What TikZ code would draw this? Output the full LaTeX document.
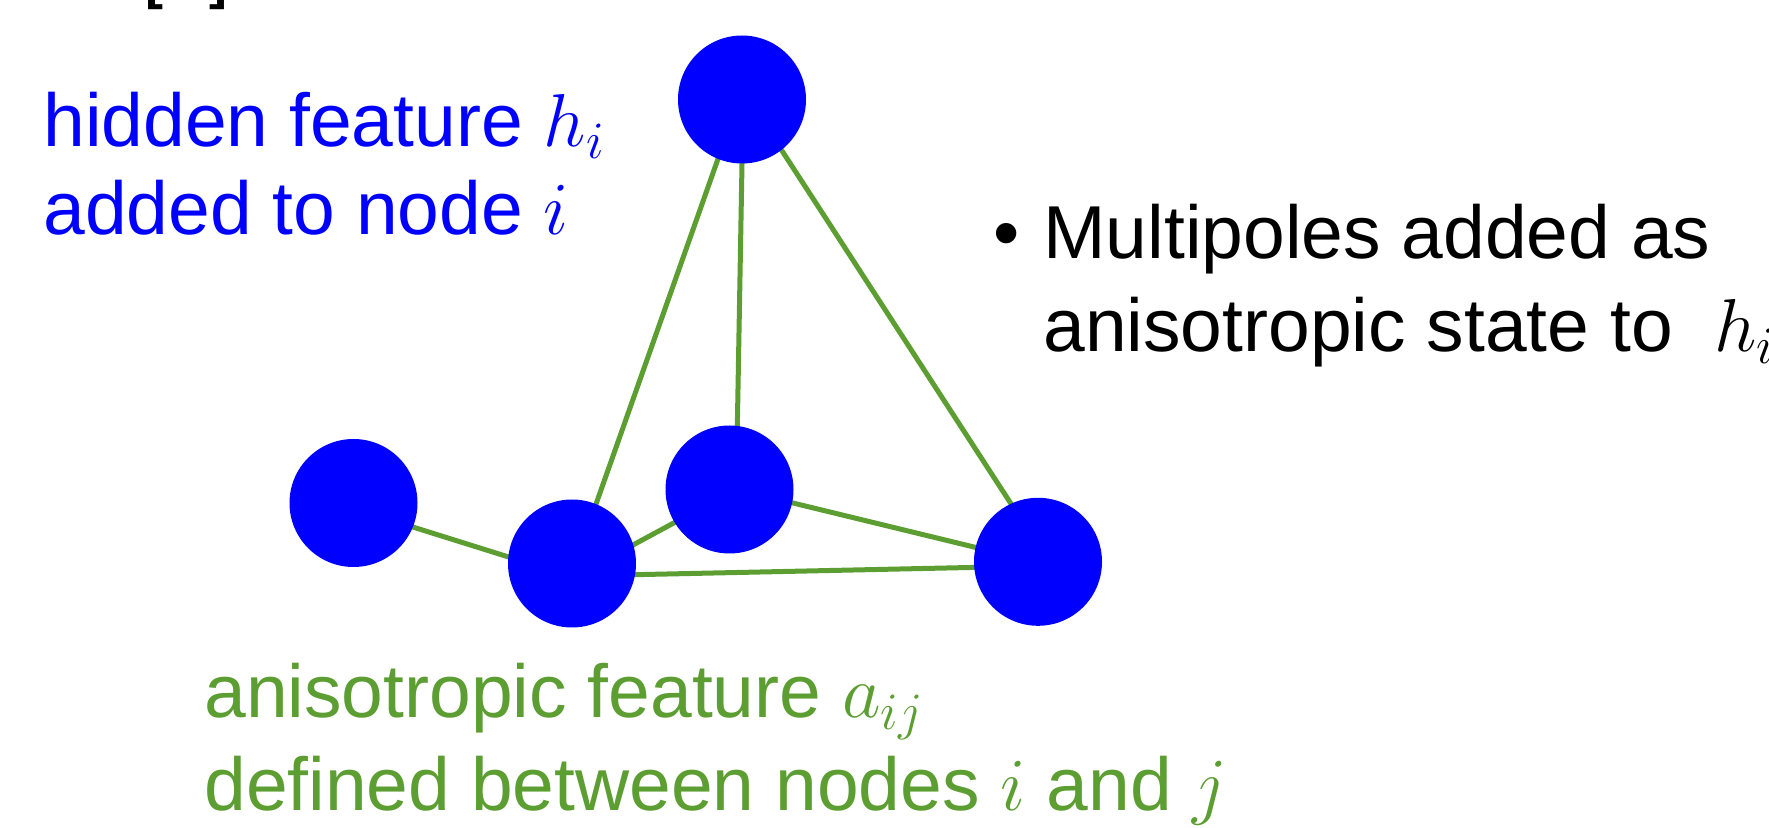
\RequirePackage{fix-cm}
\documentclass[tikz,border=0pt]{standalone}
\usepackage{fontspec}
\setmainfont{Liberation Sans}
\usetikzlibrary{backgrounds}

\definecolor{bondgreen}{RGB}{92,158,49}
\newcommand{\labfont}{\fontsize{37.5}{44}\selectfont}

\tikzset{
  atom/.style={circle, fill=blue, inner sep=0pt, minimum size=64pt},
  bond/.style={draw=bondgreen, line width=2.5pt, shorten <=-2pt, shorten >=-2pt},
  lab/.style={inner sep=0pt, anchor=base west, font=\labfont}
}

\begin{document}
\begin{tikzpicture}[x=0.5pt, y=-0.5pt]
    \useasboundingbox (0,0) rectangle (1769,828);
    \clip (0,0) rectangle (1769,828);

    % Panel tag, cut by the top edge
    \node[lab, font=\bfseries\fontsize{27}{30}\selectfont] (tag) at (145,-1) {[\hspace{23pt}]};

    % Atoms
    \node[atom] (topnode) at (742,99.5) {};
    \node[atom] (leftnode) at (353.5,503) {};
    \node[atom] (frontnode) at (572,563.5) {};
    \node[atom] (backnode) at (729.5,489.5) {};
    \node[atom] (rightnode) at (1038,561.8) {};

    % Bonds, kept behind the atoms
    \begin{scope}[on background layer]
      \draw[bond] (leftnode.-22) -- (frontnode.174);
      \draw[bond] (frontnode.17) -- (backnode.211);
      \draw[bond] (frontnode.-10) -- (rightnode.185);
      \draw[bond] (backnode.-12) -- (rightnode.167);
      \draw[bond] (topnode.-112) -- (frontnode.68);
      \draw[bond] (topnode.-90) -- (backnode.83);
      \draw[bond] (topnode.-52) -- (rightnode.115);
    \end{scope}

    % Hidden feature on the nodes
    \node[lab, text=blue] (hidA) at (43,147) {hidden feature $h_i$};
    \node[lab, text=blue] (hidB) at (43,235) {added to node $i$};

    % Bullet point
    \node[lab] (dot) at (993,259) {\textbullet};
    \node[lab] (multA) at (1043,259) {Multipoles added as};
    \node[lab] (multB) at (1043,352) {anisotropic state to~ $h_i$};

    % Anisotropic feature on the edges
    \node[lab, text=bondgreen] (anisA) at (204,718) {anisotropic feature $a_{ij}$};
    \node[lab, text=bondgreen] (anisB) at (204,810) {defined between nodes $i$ and $j$};
\end{tikzpicture}
\end{document}
